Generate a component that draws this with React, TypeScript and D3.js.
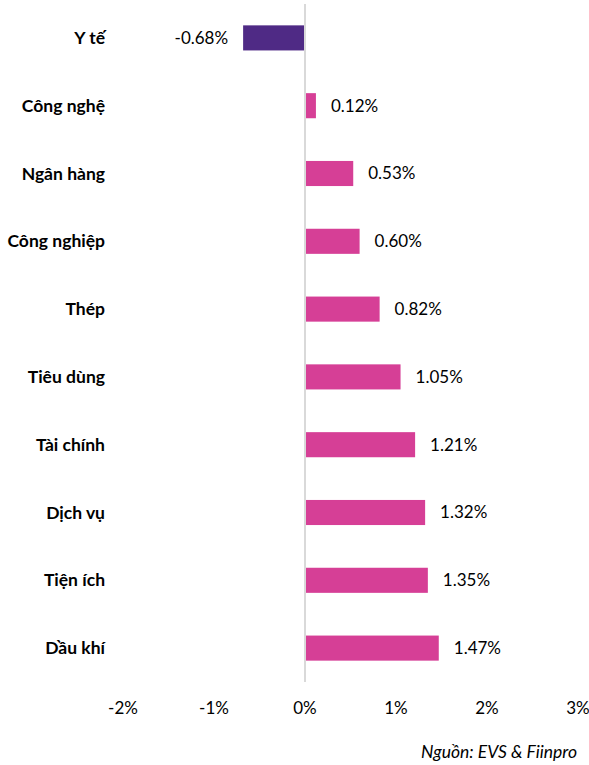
import React from "react";
import * as d3 from "d3";

const categories = ["Y tế", "Công nghệ", "Ngân hàng", "Công nghiệp", "Thép", "Tiêu dùng", "Tài chính", "Dịch vụ", "Tiện ích", "Dầu khí"];
const values = [-0.68, 0.12, 0.53, 0.6, 0.82, 1.05, 1.21, 1.32, 1.35, 1.47];
const tickValues = [-2, -1, 0, 1, 2, 3];
const source = "Nguồn: EVS & Fiinpro";

const W = 589;
const H = 765;
const FONT = "Lato, 'Open Sans', sans-serif";

export default function App() {
  const x = d3.scaleLinear().domain([-2, 3]).range([123, 578]);
  const y = d3.scaleBand<string>().domain(categories).range([4, 682]).paddingInner(0.63).paddingOuter(0.315);
  const pink = "#D63F96";
  const purple = "#4F2A85";
  return (
    <svg width={W} height={H} style={{ position: "absolute", left: 0, top: 0, background: "#fff" }} fontFamily={FONT}>
      <line x1={x(0)} x2={x(0)} y1={4} y2={682} stroke="#D9D9D9" strokeWidth={2} />
      {categories.map((c, i) => {
        const v = values[i];
        const yc = (y(c) as number) + y.bandwidth() / 2;
        const x0 = x(Math.min(0, v));
        const x1 = x(Math.max(0, v));
        return (
          <g key={c}>
            <rect x={v < 0 ? x0 : x0 + 1} y={y(c)} width={Math.max(0, x1 - x0 - 1)} height={y.bandwidth()} fill={v < 0 ? purple : pink} />
            <text x={105} y={yc} dy="0.35em" textAnchor="end" fontWeight="bold" fontSize={17.5} fill="#000">{c}</text>
            <text x={v < 0 ? x0 - 15 : x1 + 15} y={yc} dy="0.35em" textAnchor={v < 0 ? "end" : "start"} fontSize={17} fill="#000">
              {(v < 0 ? "-" : "") + Math.abs(v).toFixed(2) + "%"}
            </text>
          </g>
        );
      })}
      {tickValues.map((t) => (
        <text key={t} x={x(t)} y={708} dy="0.35em" textAnchor="middle" fontSize={17} fill="#000">
          {t + "%"}
        </text>
      ))}
      <text x={577} y={752} dy="0.35em" textAnchor="end" fontStyle="italic" fontSize={17.5} fill="#000">{source}</text>
    </svg>
  );
}
